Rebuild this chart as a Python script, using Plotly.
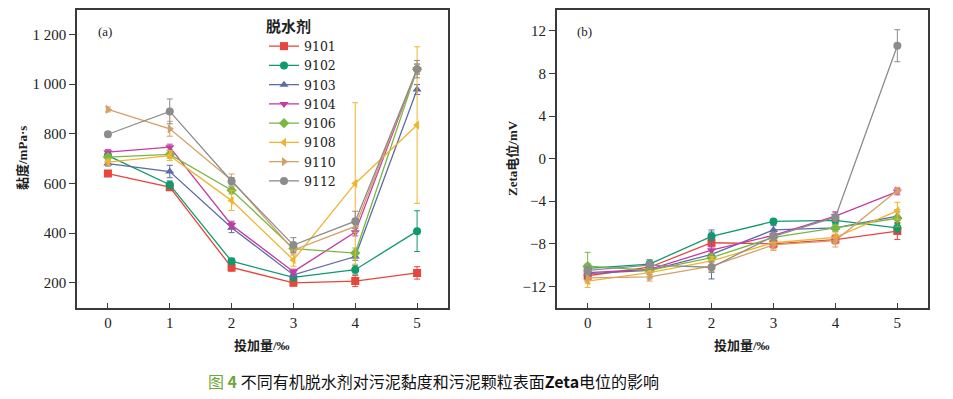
import plotly.graph_objects as go

# ---------------- data ----------------
dose = [0, 1, 2, 3, 4, 5]
agents = ["9101", "9102", "9103", "9104", "9106", "9108", "9110", "9112"]

visc_9101 = [640, 585, 262, 200, 207, 240]
visc_9102 = [712, 595, 287, 222, 253, 408]
visc_9103 = [680, 648, 422, 232, 306, 978]
visc_9104 = [726, 746, 433, 245, 404, 1060]
visc_9106 = [706, 717, 573, 338, 320, 1060]
visc_9108 = [686, 712, 531, 292, 600, 835]
visc_9110 = [898, 820, 613, 332, 427, 1060]
visc_9112 = [798, 890, 609, 352, 448, 1060]

verr_9101 = [10, 12, 15, 12, 22, 25]
verr_9102 = [10, 15, 12, 10, 18, 82]
verr_9103 = [10, 25, 20, 10, 15, 20]
verr_9104 = [10, 12, 15, 10, 15, 20]
verr_9106 = [10, 15, 15, 12, 20, 20]
verr_9108 = [12, 20, 40, 25, 325, 315]
verr_9110 = [10, 30, 25, 20, 25, 20]
verr_9112 = [10, 50, 15, 30, 40, 35]

zeta_9101 = [-11.0, -10.2, -7.9, -8.0, -7.6, -6.8]
zeta_9102 = [-10.3, -9.9, -7.3, -5.9, -5.8, -6.5]
zeta_9103 = [-10.8, -10.5, -9.0, -6.7, -6.5, -5.4]
zeta_9104 = [-10.7, -10.4, -8.6, -7.2, -5.4, -3.1]
zeta_9106 = [-10.1, -10.5, -9.3, -7.4, -6.5, -5.6]
zeta_9108 = [-11.5, -10.7, -9.6, -7.9, -7.4, -4.9]
zeta_9110 = [-11.2, -11.1, -10.1, -8.1, -7.7, -3.0]
zeta_9112 = [-10.5, -10.0, -10.2, -7.3, -5.5, 10.6]

zerr_9101 = [0.4, 0.3, 0.3, 0.4, 0.4, 0.8]
zerr_9102 = [0.4, 0.4, 0.4, 0.2, 0.3, 0.4]
zerr_9103 = [0.4, 0.4, 2.3, 0.4, 0.3, 0.4]
zerr_9104 = [0.4, 0.3, 0.3, 0.3, 0.4, 0.3]
zerr_9106 = [1.3, 0.8, 0.4, 0.3, 0.3, 0.8]
zerr_9108 = [0.6, 0.4, 0.4, 0.7, 0.5, 0.8]
zerr_9110 = [0.5, 0.4, 0.5, 0.5, 0.6, 0.3]
zerr_9112 = [0.4, 0.4, 0.5, 0.4, 0.4, 1.5]

visc_ticks = [200, 400, 600, 800, 1000, 1200]
visc_ticktext = ["200", "400", "600", "800", "1 000", "1 200"]
zeta_ticks = [-12, -8, -4, 0, 4, 8, 12]
zeta_ticktext = ["\u221212", "\u22128", "\u22124", "0", "4", "8", "12"]

visc = [visc_9101, visc_9102, visc_9103, visc_9104, visc_9106, visc_9108, visc_9110, visc_9112]
verr = [verr_9101, verr_9102, verr_9103, verr_9104, verr_9106, verr_9108, verr_9110, verr_9112]
zeta = [zeta_9101, zeta_9102, zeta_9103, zeta_9104, zeta_9106, zeta_9108, zeta_9110, zeta_9112]
zerr = [zerr_9101, zerr_9102, zerr_9103, zerr_9104, zerr_9106, zerr_9108, zerr_9110, zerr_9112]

# ---------------- styles ----------------
colors = ["#E8453C", "#0F9A6C", "#5B6CA6", "#C63AA3", "#77B843", "#EFB530", "#D5A068", "#8C8C8C"]
symbols = ["square", "circle", "triangle-up", "triangle-down", "diamond",
           "triangle-left", "triangle-right", "circle"]

SERIF = "Liberation Serif, Noto Sans CJK SC, serif"
TXT = "#222222"

# page body has an 8px margin: figure is sized/positioned to compensate
OFF = 8
W, H = 953 - OFF, 399 - OFF


def px(xr):
    return (xr - OFF) / W


def py(yr):
    return 1 - (yr - OFF) / H


fig = go.Figure()

for i, name in enumerate(agents):
    fig.add_trace(go.Scatter(
        x=dose, y=visc[i], name=name, mode="lines+markers",
        line=dict(color=colors[i], width=1.3),
        marker=dict(symbol=symbols[i], size=8, color=colors[i]),
        error_y=dict(type="data", array=verr[i], color=colors[i], thickness=1, width=3),
        xaxis="x", yaxis="y", showlegend=True, legendgroup=name,
    ))
for i, name in enumerate(agents):
    fig.add_trace(go.Scatter(
        x=dose, y=zeta[i], name=name, mode="lines+markers",
        line=dict(color=colors[i], width=1.3),
        marker=dict(symbol=symbols[i], size=8, color=colors[i]),
        error_y=dict(type="data", array=zerr[i], color=colors[i], thickness=1, width=3),
        xaxis="x2", yaxis="y2", showlegend=False, legendgroup=name,
    ))

axis_common = dict(showline=True, mirror=True, linecolor="#3a3a3a", linewidth=1.6,
                   showgrid=False, zeroline=False,
                   tickfont=dict(family=SERIF, size=15, color=TXT))

ydom = [py(307.7), py(9.5)]
fig.update_layout(
    width=W, height=H,
    margin=dict(l=0, r=0, t=0, b=0),
    paper_bgcolor="white", plot_bgcolor="white",
    xaxis=dict(domain=[px(77), px(448)], range=[-0.5, 5.5], tickvals=dose,
               ticks="inside", ticklen=5, tickcolor="#3a3a3a", anchor="y", **axis_common),
    yaxis=dict(domain=ydom, range=[100, 1300], tickvals=visc_ticks,
               ticktext=visc_ticktext, ticks="outside", ticklen=6, tickcolor="#3a3a3a",
               anchor="x", **axis_common),
    xaxis2=dict(domain=[px(556.7), px(928.3)], range=[-0.5, 5.5], tickvals=dose,
                ticks="inside", ticklen=5, tickcolor="#3a3a3a", anchor="y2", **axis_common),
    yaxis2=dict(domain=ydom, range=[-14, 14], tickvals=zeta_ticks,
                ticktext=zeta_ticktext, ticks="outside", ticklen=6, tickcolor="#3a3a3a",
                anchor="x2", **axis_common),
    legend=dict(x=px(264), y=py(12), xanchor="left", yanchor="top",
                bgcolor="rgba(0,0,0,0)", borderwidth=0,
                font=dict(family="DejaVu Serif, Liberation Serif, serif", size=12.5, color=TXT),
                title=dict(text="<b>脱水剂</b>", font=dict(family=SERIF, size=15, color=TXT)),
                tracegroupgap=0, itemwidth=30),
    showlegend=True,
)


def note(text, xr, yr, size=13, angle=0, family=SERIF, color=TXT):
    return dict(text=text, x=px(xr), y=py(yr), xref="paper", yref="paper",
                xanchor="center", yanchor="middle", showarrow=False, textangle=angle,
                font=dict(family=family, size=size, color=color))


ann = [
    note("(a)", 105, 31),
    note("(b)", 584, 31),
    note("<b>投加量/‰</b>", 262, 345),
    note("<b>投加量/‰</b>", 742, 345),
    note("<b>黏度/mPa·s</b>", 23, 158, angle=-90),
    note("<b>Zeta电位/mV</b>", 513, 158, angle=-90),
    note("<span style='color:#6FA63A'>图 <b>4</b></span> 不同有机脱水剂对污泥黏度和污泥颗粒表面<b>Zeta</b>电位的影响",
         433, 381, size=16, family="Noto Sans CJK SC, sans-serif", color="#111111"),
]
fig.update_layout(annotations=ann)

fig.write_html("out.html")
